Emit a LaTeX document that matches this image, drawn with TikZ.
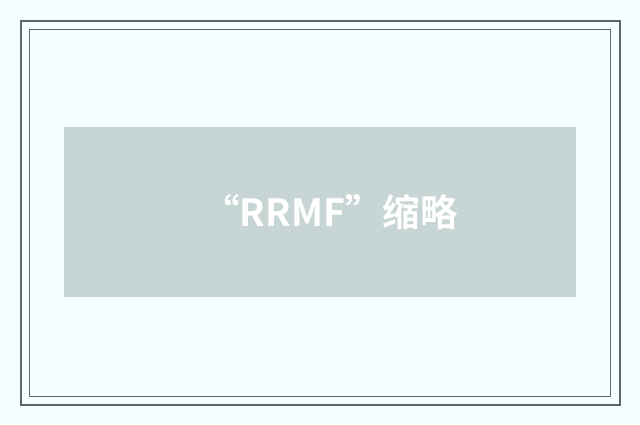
\documentclass[tikz,border=0pt]{standalone}
\usepackage{fontspec}
\newfontfamily\cjk{Noto Sans CJK SC}[BoldFont={* Bold}]
\usetikzlibrary{positioning}
\definecolor{bgcyan}{HTML}{F3FFFF}
\definecolor{framegray}{HTML}{5A6868}
\definecolor{panelgray}{HTML}{C8D5D5}
\tikzstyle{outerframe}=[draw=framegray,line width=2pt]
\tikzstyle{innerframe}=[draw=framegray,line width=1pt]
\tikzstyle{panel}=[fill=panelgray]
\tikzstyle{caption}=[text=white,font=\cjk\bfseries\fontsize{37.5}{42}\selectfont,inner sep=0pt]

\begin{document}
\begin{tikzpicture}[x=1pt,y=-1pt]
    % Background and frames
    \fill[bgcyan] (0,0) rectangle (640,425);
    \useasboundingbox (0,0) rectangle (640,425);
    \path[outerframe] (21,21) rectangle (620,405);
    \path[innerframe] (29.5,29.5) rectangle (610.5,396.5);
    % Panel with its caption
    \node[panel,minimum width=512pt,minimum height=170pt,inner sep=0pt] (box) at (320,212) {};
    \node[caption] (label) at (330,212) {“RRMF”缩略};
\end{tikzpicture}
\end{document}
